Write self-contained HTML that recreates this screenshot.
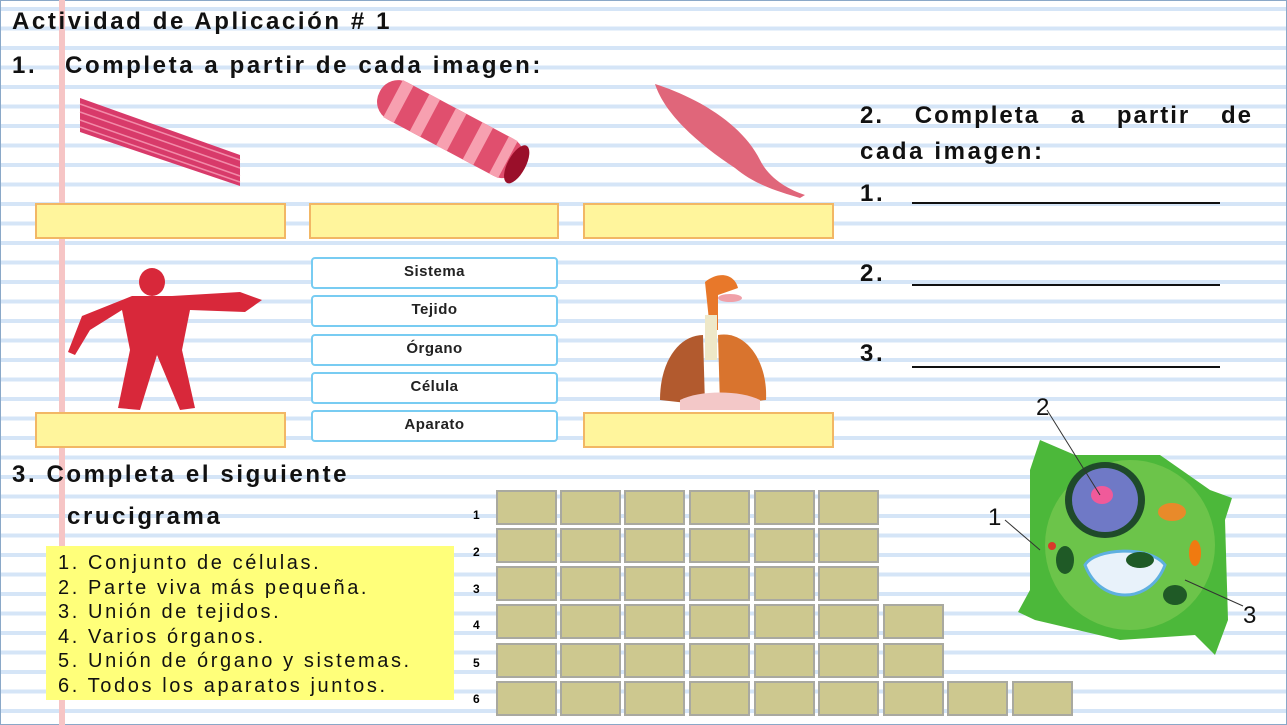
<!DOCTYPE html>
<html><head><meta charset="utf-8"><style>
*{margin:0;padding:0;box-sizing:border-box}
body{width:1287px;height:725px;overflow:hidden;position:relative;background:#fff;font-family:"Liberation Sans",sans-serif}
.bg{position:absolute;left:0;top:0;width:1287px;height:725px;background:repeating-linear-gradient(to bottom,#fff 0,#fff 6px,#d5e5f7 6px,#d5e5f7 10px,#fff 10px,#fff 19.5px);border:1px solid #8aa8c8}
.margin{position:absolute;left:59px;top:0;width:6px;height:725px;background:#f6c5c5}
.t{position:absolute;font-weight:bold;color:#111;white-space:nowrap;letter-spacing:2.6px}
.yb{position:absolute;background:#fff59c;border:2px solid #f2b765}
.bb{position:absolute;left:311px;width:247px;height:32px;background:#fff;border:2px solid #78ccf2;border-radius:4px;font-weight:bold;font-size:15px;text-align:center;line-height:26px;color:#222;letter-spacing:0.5px}
.c{position:absolute;width:61px;height:35px;background:#cdc88f;border:2px solid #a9a9a0}
.n{position:absolute;left:473px;font-size:12px;font-weight:900;font-family:"Liberation Sans",sans-serif}
.clue{position:absolute;left:46px;top:546px;width:408px;height:154px;background:#ffff7a;font-size:20px;letter-spacing:2.6px;line-height:24.6px;padding:5px 0 0 12px;color:#111;white-space:nowrap}
.ul{position:absolute;left:912px;width:308px;height:2px;background:#111}
</style></head><body>
<div class="bg"></div>
<div class="margin"></div>

<div class="t" style="left:12px;top:8px;font-size:24px">Actividad de Aplicación # 1</div>
<div class="t" style="left:12px;top:52px;font-size:24px">1.&nbsp;&nbsp;&nbsp;Completa a partir de cada imagen:</div>

<svg style="position:absolute;left:0;top:0" width="1287" height="725">
 <g fill="#d83a6a">
  <polygon points="80,98 240,155 240,186 80,132"/>
 </g>
 <g stroke="#f28aa8" stroke-width="1.5">
  <line x1="80" y1="104" x2="240" y2="160"/><line x1="80" y1="112" x2="240" y2="168"/><line x1="80" y1="120" x2="240" y2="176"/><line x1="80" y1="127" x2="240" y2="182"/>
 </g>
 <g transform="rotate(28 450 130)">
  <rect x="370" y="108" width="160" height="42" rx="20" fill="#e04f6e"/>
  <rect x="385" y="108" width="12" height="42" fill="#f7a0b0"/><rect x="415" y="108" width="12" height="42" fill="#f7a0b0"/><rect x="445" y="108" width="12" height="42" fill="#f7a0b0"/><rect x="475" y="108" width="12" height="42" fill="#f7a0b0"/><rect x="505" y="108" width="10" height="42" fill="#f7a0b0"/>
  <ellipse cx="525" cy="129" rx="9" ry="21" fill="#9a0f2a"/>
 </g>
 <path d="M655,84 C690,95 740,120 760,160 C770,180 790,190 805,195 L800,198 C780,192 755,185 735,168 C700,145 665,115 655,84Z" fill="#e0667a"/>
 <g fill="#d8283a">
  <ellipse cx="152" cy="282" rx="13" ry="14"/>
  <path d="M132,296 L172,296 L240,292 L262,300 L245,312 L190,310 L182,350 L195,408 L180,410 L157,355 L140,410 L118,408 L130,350 L122,310 L90,330 L75,355 L68,352 L82,316 Z"/>
 </g>
 <path d="M705,282 C720,270 735,275 738,288 L718,295 L718,330 L710,330 Z" fill="#e8782a"/>
 <ellipse cx="730" cy="298" rx="12" ry="4" fill="#f0a0a8"/>
 <rect x="705" y="315" width="12" height="45" fill="#eee8c8"/>
 <path d="M703,335 C680,335 660,360 660,400 L705,405 Z" fill="#b25a2e"/>
 <path d="M718,335 C745,330 768,360 766,400 L720,405 Z" fill="#d9742e"/>
 <path d="M680,400 C700,390 740,390 760,400 L760,410 L680,410Z" fill="#f3c8c8"/>
 <path d="M1040,440 L1075,455 L1160,455 L1210,490 L1232,498 L1225,520 L1228,620 L1215,655 L1195,635 L1120,640 L1035,620 L1018,612 L1030,590 L1030,470 Z" fill="#4cb83a"/>
 <ellipse cx="1130" cy="545" rx="85" ry="85" fill="#6cc44a"/>
 <ellipse cx="1105" cy="500" rx="40" ry="38" fill="#1f4a2a"/>
 <ellipse cx="1105" cy="500" rx="33" ry="32" fill="#6f79c6"/>
 <ellipse cx="1102" cy="495" rx="11" ry="9" fill="#f05a9a"/>
 <path d="M1085,565 C1095,548 1150,545 1165,565 C1150,605 1100,605 1085,565Z" fill="#e8f2fa" stroke="#5fb0e0" stroke-width="3"/>
 <ellipse cx="1172" cy="512" rx="14" ry="9" fill="#e88a2a"/>
 <ellipse cx="1195" cy="553" rx="6" ry="13" fill="#f07a10"/>
 <ellipse cx="1065" cy="560" rx="9" ry="14" fill="#1f5a26"/>
 <ellipse cx="1140" cy="560" rx="14" ry="8" fill="#1f5a26"/>
 <ellipse cx="1175" cy="595" rx="12" ry="10" fill="#1f5a26"/>
 <circle cx="1052" cy="546" r="4" fill="#d83a2a"/>
 <line x1="1047" y1="410" x2="1100" y2="495" stroke="#333" stroke-width="1"/>
 <line x1="1005" y1="520" x2="1040" y2="550" stroke="#333" stroke-width="1"/>
 <line x1="1185" y1="580" x2="1243" y2="606" stroke="#333" stroke-width="1"/>
 <text x="1036" y="415" font-family="Liberation Sans" font-size="24" fill="#111">2</text>
 <text x="988" y="525" font-family="Liberation Sans" font-size="24" fill="#111">1</text>
 <text x="1243" y="623" font-family="Liberation Sans" font-size="24" fill="#111">3</text>
</svg>

<div class="yb" style="left:35px;top:203px;width:251px;height:36px"></div>
<div class="yb" style="left:309px;top:203px;width:250px;height:36px"></div>
<div class="yb" style="left:583px;top:203px;width:251px;height:36px"></div>
<div class="yb" style="left:35px;top:412px;width:251px;height:36px"></div>
<div class="yb" style="left:583px;top:412px;width:251px;height:36px"></div>

<div class="bb" style="top:257px">Sistema</div>
<div class="bb" style="top:295px">Tejido</div>
<div class="bb" style="top:334px">Órgano</div>
<div class="bb" style="top:372px">Célula</div>
<div class="bb" style="top:410px">Aparato</div>

<div class="t" style="left:860px;top:102px;font-size:24px;width:393px;display:flex;justify-content:space-between;letter-spacing:2px"><span>2.</span><span>Completa</span><span>a</span><span>partir</span><span>de</span></div>
<div class="t" style="left:860px;top:138px;font-size:24px">cada imagen:</div>
<div class="t" style="left:860px;top:180px;font-size:24px">1.</div><div class="ul" style="top:202px"></div>
<div class="t" style="left:860px;top:260px;font-size:24px">2.</div><div class="ul" style="top:284px"></div>
<div class="t" style="left:860px;top:340px;font-size:24px">3.</div><div class="ul" style="top:366px"></div>

<div class="t" style="left:12px;top:461px;font-size:24px">3. Completa el siguiente</div>
<div class="t" style="left:67px;top:503px;font-size:24px">crucigrama</div>

<div class="clue">1. Conjunto de células.<br>2. Parte viva más pequeña.<br>3. Unión de tejidos.<br>4. Varios órganos.<br>5. Unión de órgano y sistemas.<br>6. Todos los aparatos juntos.</div>

<div class="n" style="top:508px">1</div><div class="n" style="top:545px">2</div><div class="n" style="top:582px">3</div>
<div class="n" style="top:618px">4</div><div class="n" style="top:656px">5</div><div class="n" style="top:692px">6</div>

<div class="c" style="left:496px;top:490px"></div><div class="c" style="left:560px;top:490px"></div><div class="c" style="left:624px;top:490px"></div><div class="c" style="left:689px;top:490px"></div><div class="c" style="left:754px;top:490px"></div><div class="c" style="left:818px;top:490px"></div>
<div class="c" style="left:496px;top:528px"></div><div class="c" style="left:560px;top:528px"></div><div class="c" style="left:624px;top:528px"></div><div class="c" style="left:689px;top:528px"></div><div class="c" style="left:754px;top:528px"></div><div class="c" style="left:818px;top:528px"></div>
<div class="c" style="left:496px;top:566px"></div><div class="c" style="left:560px;top:566px"></div><div class="c" style="left:624px;top:566px"></div><div class="c" style="left:689px;top:566px"></div><div class="c" style="left:754px;top:566px"></div><div class="c" style="left:818px;top:566px"></div>
<div class="c" style="left:496px;top:604px"></div><div class="c" style="left:560px;top:604px"></div><div class="c" style="left:624px;top:604px"></div><div class="c" style="left:689px;top:604px"></div><div class="c" style="left:754px;top:604px"></div><div class="c" style="left:818px;top:604px"></div><div class="c" style="left:883px;top:604px"></div>
<div class="c" style="left:496px;top:643px"></div><div class="c" style="left:560px;top:643px"></div><div class="c" style="left:624px;top:643px"></div><div class="c" style="left:689px;top:643px"></div><div class="c" style="left:754px;top:643px"></div><div class="c" style="left:818px;top:643px"></div><div class="c" style="left:883px;top:643px"></div>
<div class="c" style="left:496px;top:681px"></div><div class="c" style="left:560px;top:681px"></div><div class="c" style="left:624px;top:681px"></div><div class="c" style="left:689px;top:681px"></div><div class="c" style="left:754px;top:681px"></div><div class="c" style="left:818px;top:681px"></div><div class="c" style="left:883px;top:681px"></div><div class="c" style="left:947px;top:681px"></div><div class="c" style="left:1012px;top:681px"></div>
</body></html>
